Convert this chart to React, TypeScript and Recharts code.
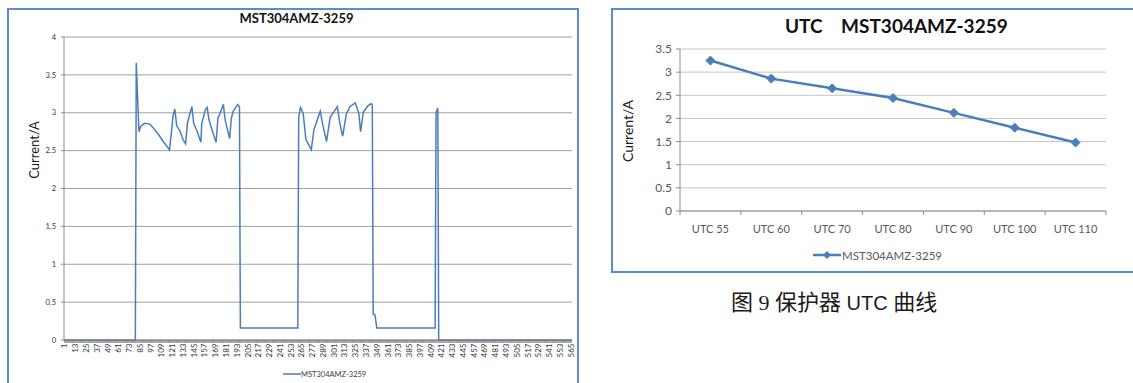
import React from 'react';
import { LineChart, Line, XAxis, YAxis, CartesianGrid } from 'recharts';

// MST304AMZ-3259 current trace: sample index / current (A) at the polyline vertices
const traceIdx = [
  1, 80, 81, 84, 86, 90, 96, 100, 106, 111, 115, 118,
  120, 122, 124, 126, 130, 133, 136,
  138, 141, 143, 145, 149, 153,
  154, 158, 160, 162, 166, 170,
  172, 174, 178, 180, 185,
  187, 189, 194, 196, 197, 261,
  262, 264, 267, 270, 276, 279, 282, 286, 289, 293, 297,
  305, 308, 311, 315, 319, 325, 329, 331, 334, 339, 343, 344,
  345, 347, 349, 414, 415, 417, 418, 566,
];
const traceAmps = [
  0, 0, 3.66, 2.75, 2.82, 2.86, 2.85, 2.8, 2.71, 2.62, 2.56, 2.51,
  2.72, 2.96, 3.05, 2.83, 2.75, 2.65, 2.59,
  2.86, 3.0, 3.08, 2.86, 2.75, 2.61,
  2.86, 3.04, 3.07, 2.91, 2.75, 2.61,
  2.93, 2.98, 3.11, 2.91, 2.66,
  2.93, 3.02, 3.11, 3.08, 0.16, 0.16,
  2.95, 3.07, 2.99, 2.65, 2.51, 2.78, 2.88, 3.02, 2.83, 2.62, 2.94,
  3.08, 2.85, 2.69, 2.98, 3.08, 3.13, 2.99, 2.75, 3.01, 3.09, 3.12, 3.1,
  0.34, 0.33, 0.16, 0.16, 3.0, 3.06, 0, 0,
];
const traceLabels = [
  1, 13, 25, 37, 49, 61, 73, 85, 97, 109, 121, 133, 145, 157, 169, 181,
  193, 205, 217, 229, 241, 253, 265, 277, 289, 301, 313, 325, 337, 349, 361, 373,
  385, 397, 409, 421, 433, 445, 457, 469, 481, 493, 505, 517, 529, 541, 553, 565,
];
const traceYTicks = [0, 0.5, 1, 1.5, 2, 2.5, 3, 3.5, 4];
const traceSamples = 566;

// UTC setting vs trip current
const utcLabels = ['UTC 55', 'UTC 60', 'UTC 70', 'UTC 80', 'UTC 90', 'UTC 100', 'UTC 110'];
const utcAmps = [3.25, 2.86, 2.65, 2.44, 2.12, 1.8, 1.48];
const utcYTicks = [0, 0.5, 1, 1.5, 2, 2.5, 3, 3.5];

const SERIES = 'MST304AMZ-3259';
const BLUE = '#4a7ebb';
const FRAME = '#5b8bd0';
const FONT = 'Lato, "Noto Sans", sans-serif';

const traceData = traceIdx.map((idx, k) => ({ idx, amps: traceAmps[k] }));
const utcData = utcAmps.map((amps, k) => ({ pos: k + 1, amps }));

// one mark per sample along the bottom axis, labelled every 12th
const traceTickPos = Array.from({ length: traceSamples }, (_, k) => k + 1);
const labelSet = new Set(traceLabels);
// category edges + centres for the UTC axis
const utcTickPos = Array.from({ length: utcLabels.length * 2 + 1 }, (_, k) => 0.5 + k * 0.5);

function TraceTick(props: any) {
  const { x, y, payload } = props;
  const v = payload.value;
  const ty = y + 3.5;
  return (
    <g>
      <line x1={x} y1={y} x2={x} y2={y + 3} stroke="#7a7a7a" strokeWidth={0.7} />
      {labelSet.has(v) && (
        <text
          x={x}
          y={ty}
          transform={`rotate(-90 ${x} ${ty})`}
          textAnchor="end"
          dominantBaseline="central"
          fontSize={8}
          fontFamily={FONT}
          fill="#333"
        >
          {v}
        </text>
      )}
    </g>
  );
}

function UtcTick(props: any) {
  const { x, y, payload } = props;
  const v = payload.value;
  if (Number.isInteger(v)) {
    return (
      <text x={x} y={y + 17} textAnchor="middle" dominantBaseline="central" fontSize={11} fontFamily={FONT} fill="#595959">
        {utcLabels[v - 1]}
      </text>
    );
  }
  return <line x1={x} y1={y} x2={x} y2={y + 4} stroke="#8c8c8c" strokeWidth={1} />;
}

function Diamond(props: any) {
  const { cx, cy, index } = props;
  const r = 4.5;
  return (
    <polygon
      key={`d-${index}`}
      points={`${cx},${cy - r} ${cx + r},${cy} ${cx},${cy + r} ${cx - r},${cy}`}
      fill={BLUE}
      stroke={BLUE}
    />
  );
}

function VLabel({ cx, cy, size, text }: { cx: number; cy: number; size: number; text: string }) {
  return (
    <div
      style={{
        position: 'absolute',
        left: cx,
        top: cy,
        transform: 'translate(-50%, -50%) rotate(-90deg)',
        whiteSpace: 'nowrap',
        fontSize: size,
        fontFamily: FONT,
        color: '#1a1a1a',
      }}
    >
      {text}
    </div>
  );
}

export default function App() {
  return (
    <div
      style={{
        position: 'absolute',
        left: 0,
        top: 0,
        width: 1133,
        height: 383,
        background: '#fff',
        overflow: 'hidden',
        fontFamily: FONT,
      }}
    >
      {/* left: raw current trace */}
      <div style={{ position: 'absolute', left: 7, top: 8, width: 572, height: 400, border: `2px solid ${FRAME}`, boxSizing: 'border-box' }} />
      <div style={{ position: 'absolute', left: 0, top: 10, width: 593, textAlign: 'center', fontSize: 13, fontWeight: 700, color: '#111' }}>
        {SERIES}
      </div>
      <VLabel cx={34} cy={150} size={13} text="Current/A" />
      <div style={{ position: 'absolute', left: 0, top: 0 }}>
        <LineChart width={580} height={383} data={traceData} margin={{ top: 37, right: 8, bottom: 18, left: 24 }}>
          <CartesianGrid vertical={false} stroke="#a0a0a0" />
          <XAxis
            dataKey="idx"
            type="number"
            domain={[0.5, traceSamples + 0.5]}
            allowDataOverflow
            ticks={traceTickPos}
            interval={0}
            tickSize={0}
            tickMargin={0}
            tickLine={false}
            height={25}
            axisLine={{ stroke: '#8c8c8c' }}
            tick={(p: any) => <TraceTick {...p} />}
          />
          <YAxis
            domain={[0, 4]}
            ticks={traceYTicks}
            width={40}
            tickSize={3}
            tickMargin={5}
            axisLine={{ stroke: '#8c8c8c' }}
            tickLine={{ stroke: '#8c8c8c' }}
            tick={{ fontSize: 7.5, fill: '#333', fontFamily: FONT }}
          />
          <Line type="linear" dataKey="amps" stroke={BLUE} strokeWidth={1.5} dot={false} isAnimationActive={false} />
        </LineChart>
      </div>
      <div style={{ position: 'absolute', left: 283, top: 369, display: 'flex', alignItems: 'center', fontSize: 7.5, color: '#404040' }}>
        <svg width={18} height={10}>
          <line x1={0} y1={5} x2={18} y2={5} stroke={BLUE} strokeWidth={1.5} />
        </svg>
        <span>{SERIES}</span>
      </div>

      {/* right: trip current per UTC setting */}
      <div style={{ position: 'absolute', left: 611, top: 8, width: 540, height: 265, border: `2px solid ${FRAME}`, boxSizing: 'border-box' }} />
      <div style={{ position: 'absolute', left: 785, top: 14, whiteSpace: 'pre', fontSize: 19, fontWeight: 700, color: '#111' }}>
        {`UTC    ${SERIES}`}
      </div>
      <VLabel cx={627} cy={131} size={14} text="Current/A" />
      <div style={{ position: 'absolute', left: 600, top: 0 }}>
        <LineChart width={533} height={280} data={utcData} margin={{ top: 49, right: 27, bottom: 39, left: 40 }}>
          <CartesianGrid vertical={false} stroke="#c4c4c4" />
          <XAxis
            dataKey="pos"
            type="number"
            domain={[0.5, utcLabels.length + 0.5]}
            allowDataOverflow
            ticks={utcTickPos}
            interval={0}
            tickSize={0}
            tickMargin={0}
            tickLine={false}
            height={30}
            axisLine={{ stroke: '#8c8c8c' }}
            tick={(p: any) => <UtcTick {...p} />}
          />
          <YAxis
            domain={[0, 3.5]}
            ticks={utcYTicks}
            width={40}
            tickSize={4}
            tickMargin={4}
            axisLine={{ stroke: '#8c8c8c' }}
            tickLine={{ stroke: '#8c8c8c' }}
            tick={{ fontSize: 12, fill: '#595959', fontFamily: FONT }}
          />
          <Line
            type="linear"
            dataKey="amps"
            stroke={BLUE}
            strokeWidth={2.5}
            dot={(p: any) => <Diamond {...p} />}
            activeDot={false}
            isAnimationActive={false}
          />
        </LineChart>
      </div>
      <div style={{ position: 'absolute', left: 813, top: 248, display: 'flex', alignItems: 'center', fontSize: 11.5, color: '#595959' }}>
        <svg width={28} height={14}>
          <line x1={0} y1={7} x2={28} y2={7} stroke={BLUE} strokeWidth={2.5} />
          <polygon points="14,3 18,7 14,11 10,7" fill={BLUE} />
        </svg>
        <span style={{ marginLeft: 1 }}>{SERIES}</span>
      </div>

      <div style={{ position: 'absolute', left: 731, top: 284, whiteSpace: 'pre', fontSize: 22, color: '#1a1a1a', fontFamily: '"Liberation Serif", "Noto Sans CJK SC", serif' }}>
        {'图 9 保护器 '}
        <span style={{ fontFamily: '"Liberation Sans", sans-serif', fontSize: 20 }}>UTC</span>
        {' 曲线'}
      </div>
    </div>
  );
}
